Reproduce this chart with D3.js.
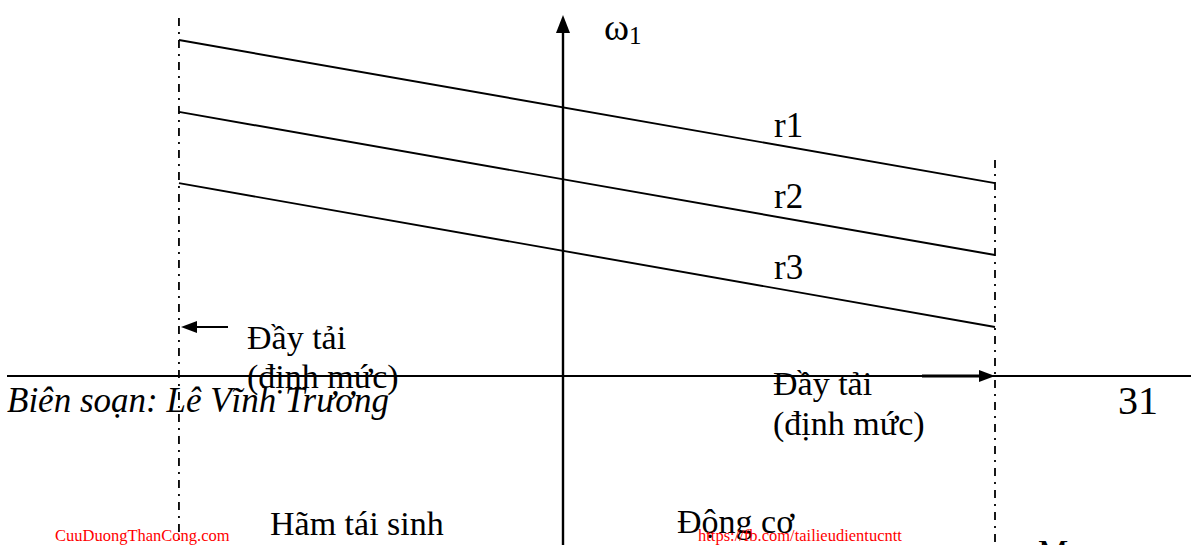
<!DOCTYPE html>
<html><head><meta charset="utf-8">
<script src="https://cdn.jsdelivr.net/npm/d3@7"></script>
<style>html,body{margin:0;padding:0;background:#fff;overflow:hidden}text{font-family:"Liberation Serif","Times New Roman",serif}</style>
</head><body>
<svg id="c" width="1191" height="545"></svg>
<script>
// Torque limits (rated load, regenerative braking on the left, motoring on the right)
const mLimits = [-0.889, 1];
const seriesNames = ["r1", "r2", "r3"];
const omegaAtLeft = [1.0, 0.786, 0.574];
const omegaAtRight = [0.574, 0.360, 0.146];
const regionLabels = ["Hãm tái sinh", "Động cơ"];
const loadLabel = ["Đầy tải", "(định mức)"];

const svg = d3.select("#c");
const x = d3.scaleLinear().domain([0, 1]).range([563, 995]);
const y = d3.scaleLinear().domain([0, 1]).range([376, 40]);

// footer line / horizontal axis
svg.append("line").attr("x1", 7).attr("x2", 1191).attr("y1", y(0)).attr("y2", y(0))
  .attr("stroke", "#000").attr("stroke-width", 2.2);

// vertical omega axis
svg.append("line").attr("x1", x(0)).attr("x2", x(0)).attr("y1", 30).attr("y2", 545)
  .attr("stroke", "#000").attr("stroke-width", 2.4);
svg.append("path").attr("d", `M${x(0)},15 L${x(0)-7},33 L${x(0)+7},33 Z`).attr("fill", "#000");
const w = svg.append("text").attr("x", 604).attr("y", 40).attr("font-size", 38);
w.append("tspan").text("ω");
w.append("tspan").attr("font-size", 25).attr("dy", 4).text("1");

// dash-dot limit lines
svg.append("line").attr("x1", x(mLimits[0])).attr("x2", x(mLimits[0])).attr("y1", 18).attr("y2", 545)
  .attr("stroke", "#000").attr("stroke-width", 1.8).attr("stroke-dasharray", "8,6,2,6");
svg.append("line").attr("x1", x(mLimits[1])).attr("x2", x(mLimits[1])).attr("y1", 160).attr("y2", 545)
  .attr("stroke", "#000").attr("stroke-width", 1.8).attr("stroke-dasharray", "8,6,2,6");

// characteristic lines
const lineGen = d3.line().x(d => x(d[0])).y(d => y(d[1]));
seriesNames.forEach((n, i) => {
  svg.append("path").attr("d", lineGen([[mLimits[0], omegaAtLeft[i]], [mLimits[1], omegaAtRight[i]]]))
    .attr("fill", "none").attr("stroke", "#000").attr("stroke-width", 1.9);
  svg.append("text").attr("x", 774).attr("y", 137 + i * 71).attr("font-size", 35).text(n);
});

// arrows
svg.append("line").attr("x1", 195).attr("x2", 228).attr("y1", 327).attr("y2", 327)
  .attr("stroke", "#000").attr("stroke-width", 2.2);
svg.append("path").attr("d", `M181,327 L197,321 L197,333 Z`).attr("fill", "#000");
svg.append("line").attr("x1", 922).attr("x2", 982).attr("y1", 376).attr("y2", 376)
  .attr("stroke", "#000").attr("stroke-width", 3);
svg.append("path").attr("d", `M995,376 L979,370 L979,382 Z`).attr("fill", "#000");

// load labels
svg.append("text").attr("x", 247).attr("y", 349).attr("font-size", 34).text(loadLabel[0]);
svg.append("text").attr("x", 247).attr("y", 388).attr("font-size", 34).text(loadLabel[1]);
svg.append("text").attr("x", 773).attr("y", 395).attr("font-size", 34).text(loadLabel[0]);
svg.append("text").attr("x", 773).attr("y", 435).attr("font-size", 34).text(loadLabel[1]);

// footer
svg.append("text").attr("x", 7).attr("y", 412).attr("font-size", 35).attr("font-style", "italic").text("Biên soạn: Lê Vĩnh Trương");
svg.append("text").attr("x", 1118).attr("y", 414).attr("font-size", 40).text("31");

// regions
svg.append("text").attr("x", 270).attr("y", 535).attr("font-size", 34).text(regionLabels[0]);
svg.append("text").attr("x", 677).attr("y", 533).attr("font-size", 34).text(regionLabels[1]);
svg.append("text").attr("x", 1038).attr("y", 563).attr("font-size", 34).text("M");

// watermarks
svg.append("text").attr("x", 55).attr("y", 541).attr("font-size", 16.5).attr("fill", "#ff0000").text("CuuDuongThanCong.com");
svg.append("text").attr("x", 698).attr("y", 541).attr("font-size", 16.5).attr("fill", "#ff0000").text("https://fb.com/tailieudientucntt");
</script>
</body></html>
